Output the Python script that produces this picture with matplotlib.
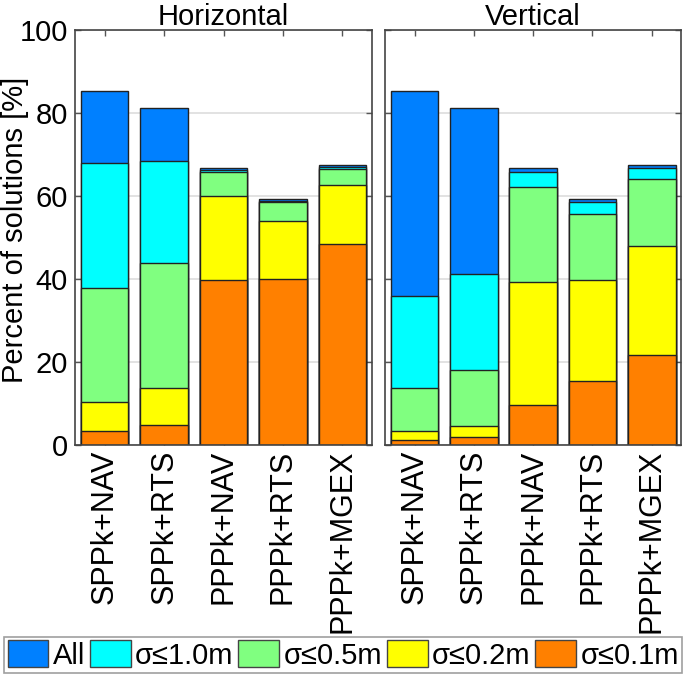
import matplotlib
matplotlib.use("Agg")
from matplotlib import pyplot as plt
from matplotlib.patches import Patch
import numpy as np

plt.rcParams['font.family'] = ['Liberation Sans', 'DejaVu Sans']

labels = ["SPPk+NAV", "SPPk+RTS", "PPPk+NAV", "PPPk+RTS", "PPPk+MGEX"]
classes = ["All", "σ≤1.0m", "σ≤0.5m", "σ≤0.2m", "σ≤0.1m"]
colors = ["#0080ff", "#00ffff", "#80ff80", "#ffff00", "#ff8000"]

# cumulative percentages per class (All, <=1.0, <=0.5, <=0.2, <=0.1)
horiz_all = [85.3, 81.4, 66.8, 59.4, 67.6]
horiz_10 = [68.1, 68.5, 66.4, 58.9, 67.2]
horiz_05 = [38.0, 43.9, 65.9, 58.6, 66.7]
horiz_02 = [10.4, 13.9, 60.0, 54.2, 62.7]
horiz_01 = [3.5, 4.9, 39.9, 40.2, 48.6]

vert_all = [85.3, 81.4, 66.8, 59.4, 67.6]
vert_10 = [36.1, 41.4, 65.9, 58.6, 66.8]
vert_05 = [13.9, 18.2, 62.2, 55.7, 64.2]
vert_02 = [3.4, 4.7, 39.4, 39.9, 48.1]
vert_01 = [1.3, 2.0, 9.8, 15.6, 21.8]

fig = plt.figure(figsize=(6.85, 6.76), dpi=100)
ax1 = fig.add_axes([0.1095, 0.341, 0.4336, 0.614])
ax2 = fig.add_axes([0.562, 0.341, 0.4328, 0.614])

x = np.arange(1, len(labels) + 1)

def draw(ax, series, title):
    # draw tallest first so smaller classes overlay
    for vals, c in zip(series, colors):
        ax.bar(x, vals, width=0.8, color=c, edgecolor="#222222", linewidth=1.0, zorder=2)
    ax.set_xlim(0.5, 5.5)
    ax.set_ylim(0, 100)
    ax.set_yticks([0, 20, 40, 60, 80, 100])
    ax.set_xticks(x)
    ax.set_xticklabels(labels, rotation=90, fontsize=22)
    ax.yaxis.grid(True, color="#dddddd", linewidth=1.2, zorder=0)
    ax.set_axisbelow(True)
    ax.tick_params(direction="in", top=True, right=True, length=4, width=1,
                   color="#555555", labelsize=21, pad=5)
    ax.tick_params(axis="x", pad=3, labelsize=22)
    for s in ax.spines.values():
        s.set_color("#444444")
        s.set_linewidth(1.2)
    ax.set_title(title, fontsize=21, pad=0, y=1.012)

draw(ax1, [horiz_all, horiz_10, horiz_05, horiz_02, horiz_01], "Horizontal")
draw(ax2, [vert_all, vert_10, vert_05, vert_02, vert_01], "Vertical")
ax2.set_yticklabels([])
ax1.set_ylabel("Percent of solutions [%]", fontsize=21)
ax1.yaxis.set_label_coords(-0.155, 0.52)

handles = [Patch(facecolor=c, edgecolor="#444444", linewidth=1) for c in colors]
leg = fig.legend(handles, classes, loc="lower left", ncol=5,
                 bbox_to_anchor=(0.006, 0.004, 0.99, 0.048), mode="expand",
                 fontsize=21, handlelength=1.4, handleheight=1.05,
                 handletextpad=0.15, columnspacing=0.3, borderpad=0.12,
                 borderaxespad=0, fancybox=False, frameon=True)
leg.get_frame().set_edgecolor("#888888")
leg.get_frame().set_linewidth(1.2)

plt.savefig("out.png", dpi=100)
